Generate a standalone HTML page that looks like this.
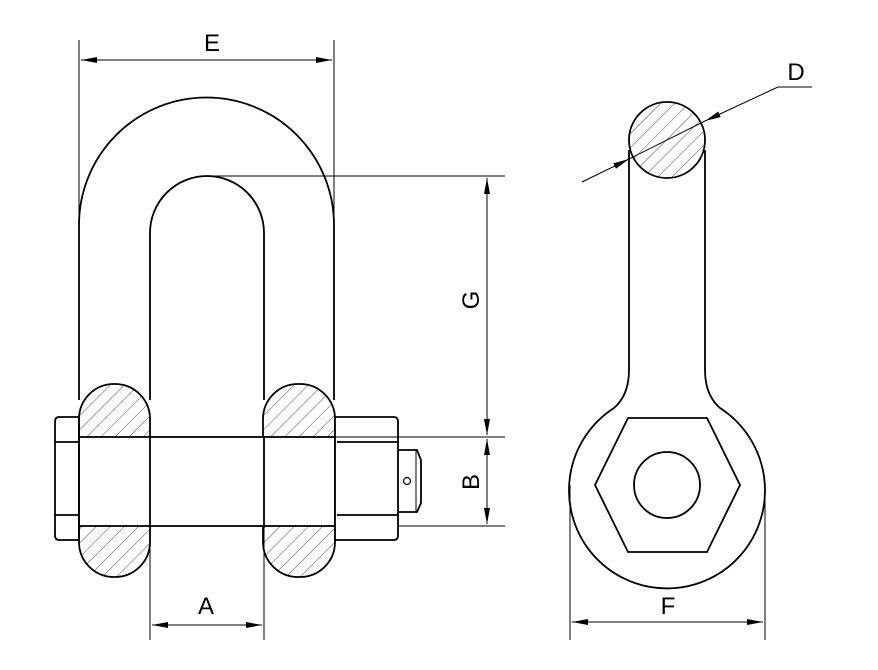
<!DOCTYPE html>
<html><head><style>html,body{margin:0;padding:0;background:#fff}svg{display:block}</style></head>
<body>
<svg width="878" height="670" viewBox="0 0 878 670" xmlns="http://www.w3.org/2000/svg" font-family="Liberation Sans, sans-serif">
<defs>
<pattern id="h" width="10" height="10" patternUnits="userSpaceOnUse" patternTransform="rotate(45)">
<line x1="0" y1="0" x2="0" y2="10" stroke="#222" stroke-width="0.8"/></pattern>
<marker id="a" markerWidth="16" markerHeight="8" refX="16" refY="4" orient="auto" markerUnits="userSpaceOnUse">
<path d="M0,1 L16,4 L0,7 Z" fill="#000"/></marker>
<marker id="b" markerWidth="16" markerHeight="8" refX="0" refY="4" orient="auto" markerUnits="userSpaceOnUse">
<path d="M16,1 L0,4 L16,7 Z" fill="#000"/></marker>
</defs>
<g fill="none" stroke="#000" stroke-width="1.8">
<!-- shackle body -->
<path d="M79,400 L79,225 A127.5,127.5 0 0 1 334,225 L334,400"/>
<path d="M150,400 L150,233 A57,57 0 0 1 264,233 L264,400"/>
<!-- lugs -->
<rect x="79" y="384" width="71" height="193" rx="35" fill="url(#h)"/>
<rect x="263" y="384" width="72" height="193" rx="35" fill="url(#h)"/>
<!-- bolt shaft -->
<rect x="79" y="437" width="256" height="89" fill="#fff"/>
<line x1="150" y1="437" x2="150" y2="526"/><line x1="264" y1="437" x2="264" y2="526"/>
<!-- left head -->
<path d="M79,417 L59,417 Q55,417 55,422 L55,535 Q55,540 59,540 L79,540 Z"/>
<line x1="55" y1="442" x2="79" y2="442"/><line x1="55" y1="515" x2="79" y2="515"/>
<!-- right nut -->
<path d="M335,417 L394,417 Q398,417 398,422 L398,535 Q398,540 394,540 L335,540 Z" fill="#fff"/>
<line x1="337" y1="442" x2="398" y2="442"/><line x1="337" y1="515" x2="398" y2="515"/>
<!-- pin -->
<path d="M398,450 L417,450 L421,460 L421,503 L417,512 L398,512"/>
<line x1="416" y1="450" x2="416" y2="512" stroke-width="1"/>
<circle cx="407" cy="481" r="3.5" stroke-width="1.2"/>
<!-- right view -->
<path d="M629,150 L629,370 Q629,395 614,408 A98,98 0 1 0 720,408 Q705,395 705,370 L705,150"/>
<circle cx="667" cy="140" r="38" fill="url(#h)"/>
<path d="M595,485 L628,418 L707,418 L740,485 L707,552 L628,552 Z" fill="#fff"/>
<circle cx="667" cy="485" r="33"/>
</g>
<g fill="none" stroke="#000" stroke-width="1">
<!-- E -->
<line x1="79" y1="40" x2="79" y2="225"/><line x1="334" y1="40" x2="334" y2="225"/>
<line x1="81" y1="60" x2="332" y2="60" marker-start="url(#b)" marker-end="url(#a)"/>
<!-- G/B ext -->
<line x1="206" y1="176" x2="505" y2="176"/>
<line x1="335" y1="437" x2="505" y2="437"/><line x1="398" y1="526" x2="505" y2="526"/>
<line x1="487" y1="178" x2="487" y2="435" marker-start="url(#b)" marker-end="url(#a)"/>
<line x1="487" y1="439" x2="487" y2="524" marker-start="url(#b)" marker-end="url(#a)"/>
<!-- A -->
<line x1="150" y1="526" x2="150" y2="640"/><line x1="264" y1="526" x2="264" y2="640"/>
<line x1="152" y1="625" x2="262" y2="625" marker-start="url(#b)" marker-end="url(#a)"/>
<!-- F -->
<line x1="570" y1="485" x2="570" y2="640"/><line x1="765" y1="485" x2="765" y2="640"/>
<line x1="572" y1="622" x2="763" y2="622" marker-start="url(#b)" marker-end="url(#a)"/>
<!-- D -->
<line x1="582" y1="182" x2="629" y2="159" marker-end="url(#a)"/>
<line x1="629" y1="159" x2="705" y2="121"/>
<line x1="778" y1="87" x2="705" y2="121" marker-end="url(#a)"/>
<line x1="778" y1="87" x2="812" y2="87"/>
</g>
<g font-size="24" fill="#000" text-anchor="middle">
<text x="212" y="51">E</text>
<text x="206" y="614">A</text>
<text x="668" y="614">F</text>
<text x="796" y="80">D</text>
<text transform="translate(479,300) rotate(-90)">G</text>
<text transform="translate(479,482) rotate(-90)">B</text>
</g>
</svg>
</body></html>
